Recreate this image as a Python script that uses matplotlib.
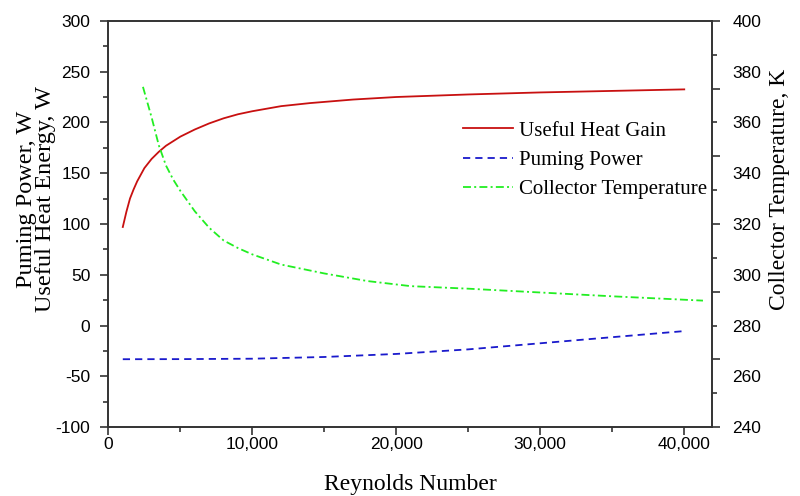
import numpy as np
import matplotlib.pyplot as plt
from matplotlib.ticker import FuncFormatter, MultipleLocator, FixedLocator

# values
re_heat = [1000, 1250, 1500, 1750, 2000, 2500, 3000, 3500, 4000, 5000, 6000,
           7000, 8000, 9000, 10000, 12000, 14000, 17000, 20000, 25000, 30000,
           35000, 40000]
heat_gain = [97, 112, 125, 134, 142, 155, 164, 171, 177, 186, 193,
             199, 204, 208, 211, 216, 219, 222.5, 225, 227.5, 229.5,
             231, 232.5]

re_pump = [1000, 5000, 10000, 15000, 20000, 25000, 30000, 35000, 40000]
pump_power = [-33.2, -33.1, -32.7, -31, -28, -23.5, -17.5, -11.5, -5.5]

re_temp = [2400, 2700, 3000, 3500, 4000, 4500, 5000, 6000, 7000, 8000, 9000,
           10000, 12000, 15000, 18000, 21000, 25000, 30000, 35000, 41300]
collector_temp = [374, 368, 362, 351, 343, 337.5, 333, 325, 318.5, 313.5,
                  310.5, 308, 304, 300.5, 297.5, 295.5, 294.5, 293, 291.5,
                  289.8]

left_ticks = [-100, -50, 0, 50, 100, 150, 200, 250, 300]
right_labels = [240, 260, 280, 300, 320, 340, 360, 380, 400]
x_ticks = [0, 10000, 20000, 30000, 40000]

plt.rcParams['font.family'] = ['Liberation Sans', 'DejaVu Sans']
plt.rcParams['axes.unicode_minus'] = False
serif = 'Liberation Serif'
spine_col = '#333333'

fig = plt.figure(figsize=(8, 4.96), dpi=100)
ax = fig.add_axes([0.1355, 0.139, 0.754, 0.819])
ax2 = ax.twinx()
ax3 = ax.twinx()  # only carries the right-hand numbers

l1, = ax.plot(re_heat, heat_gain, color='#c81010', lw=1.3,
              label='Useful Heat Gain')
l2, = ax.plot(re_pump, pump_power, color='#1a1acc', lw=1.3,
              ls=(0, (4, 2.8)), label='Puming Power')
l3, = ax2.plot(re_temp, collector_temp, color='#22ee22', lw=1.3,
               ls=(0, (4.4, 1.8, 1.1, 1.8)), label='Collector Temperature')

ax.set_xlim(0, 41900)
ax.set_ylim(-100, 300)
ax2.set_ylim(240, 400)
ax3.set_ylim(240, 400)

ax.set_xticks(x_ticks)
ax.xaxis.set_minor_locator(MultipleLocator(5000))
ax.xaxis.set_major_formatter(FuncFormatter(lambda v, p: f'{int(v):,}'))
ax.set_yticks(left_ticks)
ax.yaxis.set_minor_locator(MultipleLocator(25))

ax.tick_params(which='both', direction='out', color=spine_col, width=1.2,
               labelsize=12.5, top=False, right=False)
ax.tick_params(which='major', length=6)
ax.tick_params(which='minor', length=3.5)
ax.tick_params(axis='y', pad=7)
ax.tick_params(axis='x', pad=1)

# right axis tick marks do not line up with its numbers in the original
ax2.yaxis.set_major_locator(FixedLocator(np.linspace(240, 400, 7)))
ax2.yaxis.set_minor_locator(FixedLocator(np.linspace(240, 400, 13)[1::2]))
ax2.tick_params(which='both', direction='out', color=spine_col, width=1.2,
                labelright=False)
ax2.tick_params(which='major', length=6)
ax2.tick_params(which='minor', length=3.5)

ax3.set_yticks(right_labels)
ax3.tick_params(axis='y', length=0, pad=15, labelsize=12.5)
for s in ax3.spines.values():
    s.set_visible(False)

for a in (ax, ax2):
    for s in a.spines.values():
        s.set_color(spine_col)
        s.set_linewidth(1.2)

ax.set_xlabel('Reynolds Number', fontfamily=serif, fontsize=17, labelpad=16)
ax.set_ylabel('Puming Power, W\nUseful Heat Energy, W', fontfamily=serif,
              fontsize=17.5, linespacing=0.9)
ax.yaxis.set_label_coords(-0.087, 0.561)
ax3.set_ylabel('Collector Temperature, K', fontfamily=serif, fontsize=17)
ax3.yaxis.set_label_coords(1.095, 0.586)

fig.legend([l1, l2, l3], [l1.get_label(), l2.get_label(), l3.get_label()],
           loc='upper left', bbox_to_anchor=(0.579, 0.756), frameon=False,
           prop={'family': serif, 'size': 15}, handlelength=2.4,
           handletextpad=0.3, labelspacing=0.47, borderpad=0,
           borderaxespad=0)

fig.savefig('out.png', dpi=100)
